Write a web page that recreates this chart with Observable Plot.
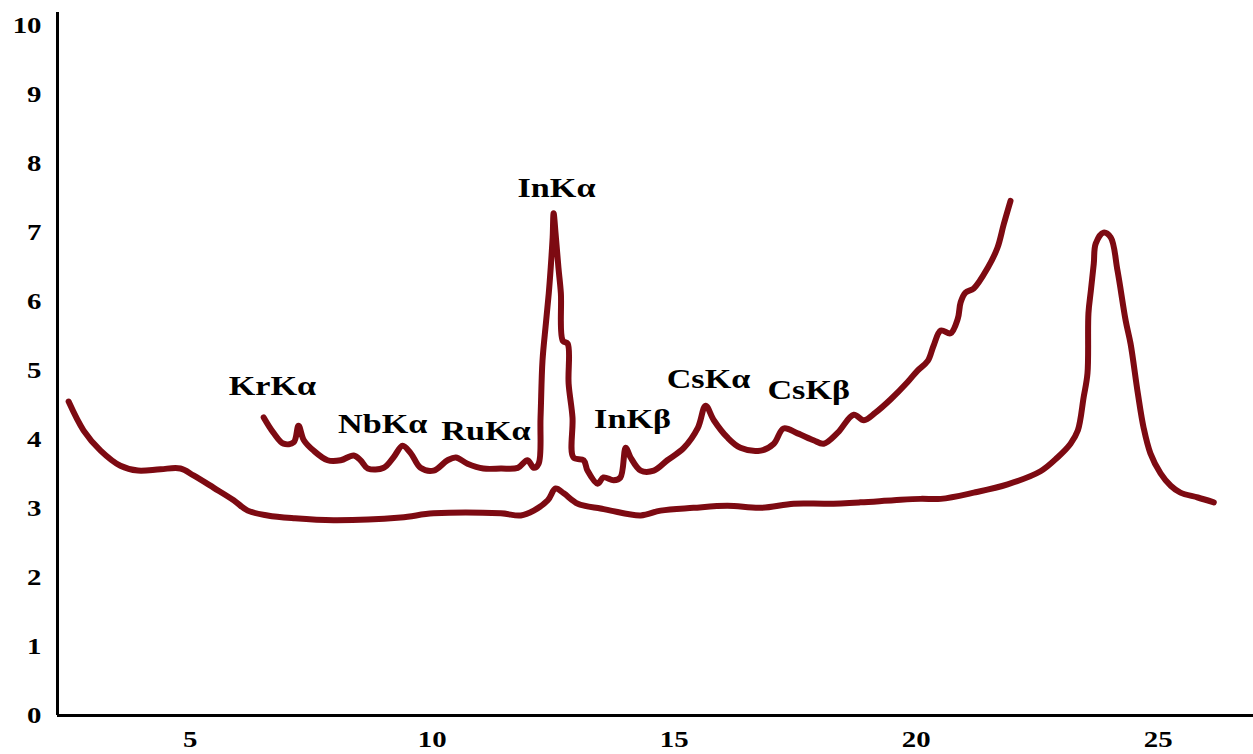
<!DOCTYPE html>
<html>
<head>
<meta charset="utf-8">
<script src="https://cdn.jsdelivr.net/npm/d3@7"></script>
<script src="https://cdn.jsdelivr.net/npm/@observablehq/plot@0.6"></script>
<style>
  html, body { margin: 0; padding: 0; background: #ffffff; }
  #chart { width: 1253px; height: 754px; overflow: hidden; }
</style>
</head>
<body>
<div id="chart"></div>
<script>
// Lower spectrum
const lowerX = [2.49, 2.80, 3.15, 3.56, 3.92, 4.39, 4.80, 5.07, 5.49, 5.90, 6.19, 6.60, 7.14, 7.96, 9.35, 10.03, 11.42, 11.83, 12.10, 12.39, 12.55, 12.72, 13.01, 13.48, 13.69, 14.31, 14.72, 15.40, 16.10, 16.79, 17.47, 18.17, 18.85, 19.54, 20.09, 20.51, 21.19, 21.89, 22.57, 22.92, 23.19, 23.34, 23.46, 23.54, 23.56, 23.61, 23.67, 23.71, 23.87, 24.02, 24.16, 24.33, 24.43, 24.58, 24.70, 24.84, 25.05, 25.26, 25.46, 25.82, 26.15];
const lowerY = [4.55, 4.13, 3.84, 3.62, 3.55, 3.57, 3.58, 3.48, 3.30, 3.12, 2.97, 2.90, 2.86, 2.83, 2.87, 2.93, 2.93, 2.90, 2.97, 3.12, 3.29, 3.22, 3.07, 3.00, 2.97, 2.90, 2.97, 3.01, 3.04, 3.01, 3.07, 3.07, 3.09, 3.12, 3.14, 3.14, 3.23, 3.35, 3.54, 3.74, 3.94, 4.13, 4.61, 4.96, 5.83, 6.16, 6.55, 6.84, 7.00, 6.93, 6.45, 5.72, 5.39, 4.67, 4.17, 3.80, 3.51, 3.33, 3.23, 3.16, 3.09];

// Upper spectrum
const upperX = [6.52, 6.72, 6.93, 7.14, 7.24, 7.35, 7.55, 7.84, 8.11, 8.38, 8.52, 8.67, 9.00, 9.20, 9.39, 9.56, 9.76, 10.03, 10.32, 10.49, 10.73, 11.06, 11.42, 11.77, 11.97, 12.10, 12.20, 12.24, 12.28, 12.35, 12.41, 12.45, 12.49, 12.51, 12.55, 12.61, 12.66, 12.70, 12.80, 12.82, 12.90, 12.92, 13.13, 13.21, 13.42, 13.54, 13.75, 13.89, 14.00, 14.10, 14.31, 14.58, 14.86, 15.20, 15.49, 15.65, 15.82, 16.10, 16.37, 16.79, 17.06, 17.26, 17.55, 17.88, 18.09, 18.38, 18.71, 18.92, 19.16, 19.47, 19.82, 20.03, 20.24, 20.36, 20.51, 20.71, 20.86, 20.92, 21.02, 21.19, 21.48, 21.68, 21.81, 21.95];
const upperY = [4.32, 4.10, 3.94, 3.96, 4.20, 3.99, 3.84, 3.70, 3.70, 3.77, 3.70, 3.58, 3.59, 3.74, 3.91, 3.80, 3.59, 3.55, 3.70, 3.74, 3.65, 3.58, 3.58, 3.59, 3.70, 3.59, 3.65, 4.32, 5.14, 5.68, 6.12, 6.49, 6.93, 7.28, 6.99, 6.49, 6.12, 5.43, 5.39, 4.81, 4.32, 3.74, 3.70, 3.55, 3.36, 3.45, 3.41, 3.45, 3.88, 3.74, 3.55, 3.55, 3.70, 3.88, 4.17, 4.49, 4.28, 4.03, 3.88, 3.84, 3.94, 4.16, 4.09, 3.99, 3.94, 4.10, 4.36, 4.28, 4.39, 4.58, 4.83, 5.00, 5.14, 5.36, 5.58, 5.54, 5.75, 5.99, 6.13, 6.19, 6.49, 6.78, 7.12, 7.46];

// Peak labels
const labelText = ["KrKα", "NbKα", "RuKα", "InKα", "InKβ", "CsKα", "CsKβ"];
const labelX = [6.70, 8.98, 11.11, 12.57, 14.14, 15.71, 17.78];
const labelY = [4.78, 4.23, 4.12, 7.64, 4.30, 4.88, 4.72];

// Ticks
const xTicks = [5, 10, 15, 20, 25];
const yTicks = [0, 1, 2, 3, 4, 5, 6, 7, 8, 9, 10];

const xDomain = [2.26, 26.97];
const yDomain = [0, 10.19];

const lower = lowerX.map((x, i) => ({x, y: lowerY[i]}));
const upper = upperX.map((x, i) => ({x, y: upperY[i]}));
const labels = labelText.map((t, i) => ({t, x: labelX[i], y: labelY[i]}));

const lineColor = "#7d0a12";
const serif = "Liberation Serif, Times New Roman, serif";

const chart = Plot.plot({
  width: 1253,
  height: 754,
  marginLeft: 57,
  marginRight: 0,
  marginTop: 12,
  marginBottom: 39,
  x: {domain: xDomain},
  y: {domain: yDomain},
  style: {fontFamily: serif, fontWeight: "bold", color: "#000", background: "#fff"},
  marks: [
    Plot.axisX({ticks: xTicks, tickSize: 0, tickPadding: 14, fontSize: 24, fontWeight: "bold", fontFamily: serif, fill: "#000", label: null}),
    Plot.axisY({ticks: yTicks, tickSize: 0, tickPadding: 16, fontSize: 24, fontWeight: "bold", fontFamily: serif, fill: "#000", label: null}),
    Plot.line(lower, {x: "x", y: "y", stroke: lineColor, strokeWidth: 6, strokeLinejoin: "round", strokeLinecap: "round", curve: "catmull-rom"}),
    Plot.line(upper, {x: "x", y: "y", stroke: lineColor, strokeWidth: 6, strokeLinejoin: "round", strokeLinecap: "round", curve: "catmull-rom"}),
    Plot.text(labels, {x: "x", y: "y", text: "t", fontSize: 28, fontWeight: "bold", fill: "#000", fontFamily: serif}),
    Plot.ruleY([0], {stroke: "#000", strokeWidth: 3}),
    Plot.ruleX([xDomain[0]], {stroke: "#000", strokeWidth: 3})
  ]
});

document.getElementById("chart").appendChild(chart);

// Widen glyphs horizontally to match the reference's stretched lettering
function stretch(selector, factor) {
  chart.querySelectorAll(selector).forEach(t => {
    const w = t.getComputedTextLength();
    if (w > 0) {
      t.setAttribute("textLength", (w * factor).toFixed(1));
      t.setAttribute("lengthAdjust", "spacingAndGlyphs");
    }
  });
}
stretch('g[aria-label="text"] text', 1.22);
stretch('g[aria-label="x-axis tick label"] text, g[aria-label="y-axis tick label"] text', 1.2);
</script>
</body>
</html>
